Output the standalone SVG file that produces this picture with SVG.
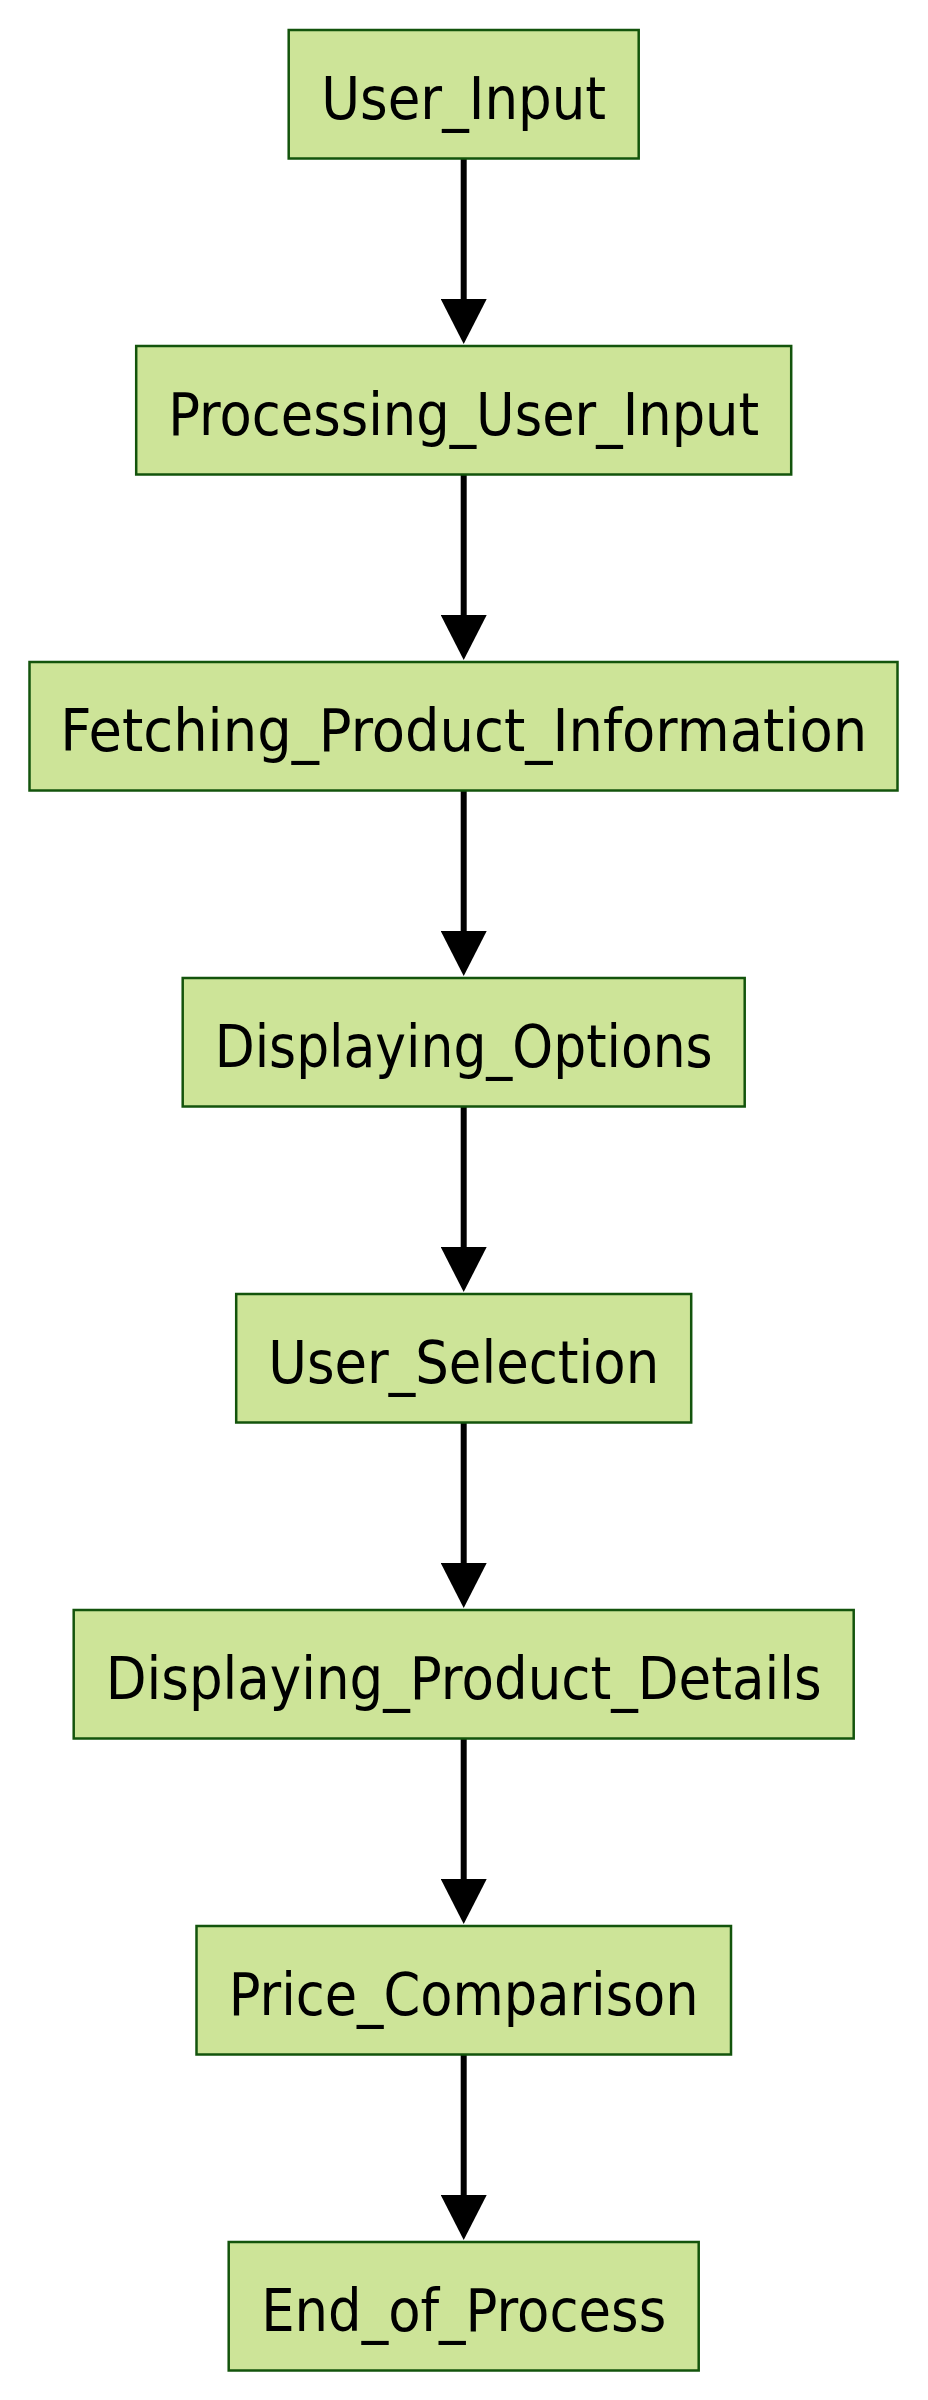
<svg xmlns="http://www.w3.org/2000/svg" width="928" height="2400" viewBox="0 0 928 2400">
  <style>
    .node rect { fill: #cde498; stroke: #13540c; stroke-width: 2.5; }
    .node text { font-family: "DejaVu Sans", "Liberation Sans", sans-serif; font-size: 58px; fill: #000000; text-anchor: middle; }
    .edge { stroke: #000000; stroke-width: 6; fill: none; }
  </style>
  <defs>
    <marker id="arrow" markerUnits="userSpaceOnUse" viewBox="0 0 46 46" refX="1" refY="23" markerWidth="46" markerHeight="46" orient="auto">
      <path d="M0,0 L45,23 L0,46 Z" fill="#000000"/>
    </marker>
  </defs>
  <rect width="928" height="2400" fill="#ffffff"/>
  <g id="connectors">
    <line class="edge" x1="463.7" y1="159" x2="463.7" y2="300" marker-end="url(#arrow)"/>
    <line class="edge" x1="463.7" y1="475" x2="463.7" y2="616" marker-end="url(#arrow)"/>
    <line class="edge" x1="463.7" y1="791" x2="463.7" y2="932" marker-end="url(#arrow)"/>
    <line class="edge" x1="463.7" y1="1107" x2="463.7" y2="1248" marker-end="url(#arrow)"/>
    <line class="edge" x1="463.7" y1="1423" x2="463.7" y2="1564" marker-end="url(#arrow)"/>
    <line class="edge" x1="463.7" y1="1739" x2="463.7" y2="1880" marker-end="url(#arrow)"/>
    <line class="edge" x1="463.7" y1="2055" x2="463.7" y2="2196" marker-end="url(#arrow)"/>
  </g>
  <g id="User_Input" class="node">
    <rect x="288.7" y="30" width="350" height="128.5"/>
    <text x="463.7" y="118.5" textLength="285" lengthAdjust="spacingAndGlyphs">User_Input</text>
  </g>
  <g id="Processing_User_Input" class="node">
    <rect x="136.2" y="346" width="655" height="128.5"/>
    <text x="463.7" y="434.5" textLength="591" lengthAdjust="spacingAndGlyphs">Processing_User_Input</text>
  </g>
  <g id="Fetching_Product_Information" class="node">
    <rect x="29.5" y="662" width="868" height="128.5"/>
    <text x="463.7" y="750.5" textLength="807" lengthAdjust="spacingAndGlyphs">Fetching_Product_Information</text>
  </g>
  <g id="Displaying_Options" class="node">
    <rect x="182.7" y="978" width="562" height="128.5"/>
    <text x="463.7" y="1066.5" textLength="498" lengthAdjust="spacingAndGlyphs">Displaying_Options</text>
  </g>
  <g id="User_Selection" class="node">
    <rect x="236.2" y="1294" width="455" height="128.5"/>
    <text x="463.7" y="1382.5" textLength="391" lengthAdjust="spacingAndGlyphs">User_Selection</text>
  </g>
  <g id="Displaying_Product_Details" class="node">
    <rect x="73.7" y="1610" width="780" height="128.5"/>
    <text x="463.7" y="1698.5" textLength="716" lengthAdjust="spacingAndGlyphs">Displaying_Product_Details</text>
  </g>
  <g id="Price_Comparison" class="node">
    <rect x="196.5" y="1926" width="534.5" height="128.5"/>
    <text x="463.7" y="2014.5" textLength="470" lengthAdjust="spacingAndGlyphs">Price_Comparison</text>
  </g>
  <g id="End_of_Process" class="node">
    <rect x="228.7" y="2242" width="470" height="128.5"/>
    <text x="463.7" y="2330.5" textLength="405" lengthAdjust="spacingAndGlyphs">End_of_Process</text>
  </g>
</svg>
